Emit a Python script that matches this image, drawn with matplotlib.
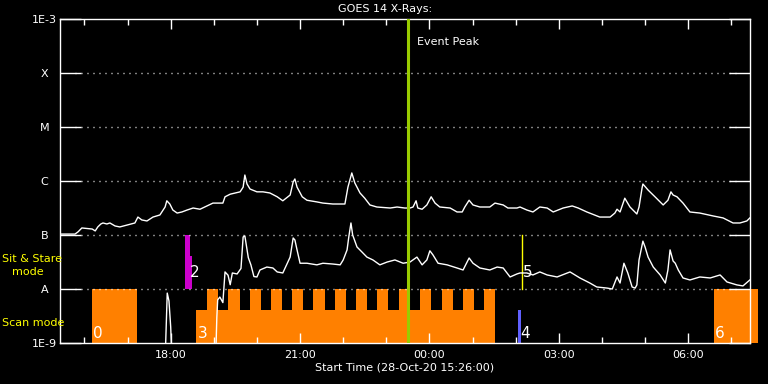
import numpy as np
import matplotlib
matplotlib.use("Agg")
import matplotlib.pyplot as plt

# GOES 14 X-ray flux, time in hours since 28-Oct-20 00:00
t_start = 15.0 + 26.0 / 60
t_end = t_start + 16.0

long_t = [15.43, 15.78, 15.85, 15.94, 16.18, 16.25, 16.31, 16.38, 16.43, 16.52, 16.59, 16.71, 16.82, 16.99,
          17.17, 17.24, 17.33, 17.45, 17.59, 17.75, 17.87, 17.91, 17.98, 18.05, 18.15, 18.26, 18.38, 18.52,
          18.68, 18.84, 18.98, 19.21, 19.26, 19.38, 19.61, 19.68, 19.72, 19.77, 19.84, 20.00, 20.14, 20.30,
          20.47, 20.60, 20.77, 20.84, 20.88, 20.93, 21.05, 21.16, 21.39, 21.53, 21.76, 22.04, 22.11, 22.20,
          22.27, 22.39, 22.50, 22.62, 22.78, 23.09, 23.25, 23.43, 23.55, 23.62, 23.69, 23.73, 23.83, 23.94,
          24.04, 24.13, 24.24, 24.48, 24.64, 24.76, 24.82, 24.92, 25.01, 25.17, 25.40, 25.52, 25.71, 25.82,
          26.03, 26.10, 26.26, 26.40, 26.56, 26.73, 26.87, 27.10, 27.31, 27.45, 27.65, 27.95, 28.19, 28.30,
          28.35, 28.42, 28.53, 28.65, 28.81, 28.86, 28.93, 28.95, 29.07, 29.23, 29.42, 29.53, 29.60, 29.65,
          29.74, 29.88, 30.04, 30.27, 30.58, 30.81, 31.04, 31.20, 31.36, 31.43]
long_flux = [1.04e-7, 1.04e-7, 1.14e-7, 1.35e-7, 1.29e-7, 1.19e-7, 1.41e-7, 1.6e-7, 1.67e-7, 1.6e-7, 1.67e-7,
             1.47e-7, 1.41e-7, 1.53e-7, 1.67e-7, 2.15e-7, 1.9e-7, 1.82e-7, 2.15e-7, 2.35e-7, 3.3e-7, 4.3e-7,
             3.75e-7, 2.9e-7, 2.55e-7, 2.67e-7, 2.9e-7, 3.16e-7, 3.0e-7, 3.45e-7, 3.9e-7, 3.9e-7, 5.1e-7,
             5.7e-7, 6.3e-7, 7.7e-7, 1.29e-6, 8.8e-7, 7.1e-7, 6.3e-7, 6.3e-7, 6.0e-7, 5.1e-7, 4.3e-7, 5.5e-7,
             9.6e-7, 1.09e-6, 7.7e-7, 5.1e-7, 4.4e-7, 4.1e-7, 3.9e-7, 3.75e-7, 3.75e-7, 7.7e-7, 1.41e-6,
             9.2e-7, 6.0e-7, 4.8e-7, 3.6e-7, 3.3e-7, 3.16e-7, 3.3e-7, 3.16e-7, 3.16e-7, 3.3e-7, 4.3e-7,
             3.16e-7, 3.0e-7, 3.6e-7, 5.1e-7, 3.9e-7, 3.3e-7, 3.16e-7, 2.67e-7, 2.67e-7, 3.3e-7, 4.4e-7,
             3.6e-7, 3.3e-7, 3.3e-7, 3.9e-7, 3.6e-7, 3.16e-7, 3.16e-7, 3.3e-7, 2.9e-7, 2.67e-7, 3.3e-7,
             3.16e-7, 2.67e-7, 3.16e-7, 3.45e-7, 3.16e-7, 2.67e-7, 2.15e-7, 2.15e-7, 2.55e-7, 3.0e-7, 2.67e-7,
             4.8e-7, 3.3e-7, 2.45e-7, 3.3e-7, 7.4e-7, 8.8e-7, 6.8e-7, 5.1e-7, 3.6e-7, 4.4e-7, 6.3e-7, 5.5e-7,
             5.1e-7, 3.9e-7, 2.67e-7, 2.55e-7, 2.25e-7, 2.07e-7, 1.67e-7, 1.67e-7, 1.82e-7, 2.07e-7]

short_t = [17.88, 17.92, 17.96, 18.00, 18.02, np.nan,
           19.05, 19.07, 19.09, 19.14, 19.21, 19.26, 19.33, 19.38, 19.43, 19.54, 19.63, 19.68, 19.72, 19.80,
           19.86, 19.93, 20.00, 20.07, 20.23, 20.37, 20.47, 20.60, 20.77, 20.84, 20.88, 20.93, 21.00, 21.16,
           21.39, 21.53, 21.76, 21.93, 22.00, 22.09, 22.13, 22.18, 22.22, 22.32, 22.44, 22.55, 22.69, 22.85,
           23.02, 23.20, 23.39, 23.55, 23.71, 23.83, 23.94, 24.01, 24.08, 24.20, 24.41, 24.64, 24.78, 24.92,
           25.01, 25.17, 25.40, 25.57, 25.71, 25.87, 26.03, 26.10, 26.26, 26.40, 26.56, 26.73, 26.96, 27.26,
           27.49, 27.72, 27.88, 28.12, 28.24, 28.35, 28.42, 28.51, 28.60, 28.70, 28.77, 28.81, 28.86, 28.95,
           29.00, 29.07, 29.19, 29.35, 29.47, 29.53, 29.58, 29.65, 29.70, 29.77, 29.88, 30.04, 30.27, 30.51,
           30.74, 30.90, 31.13, 31.27, 31.43]
short_flux = [8e-10, 8.4e-9, 6e-9, 2e-9, 8e-10, np.nan,
              8e-10, 3.0e-9, 6.3e-9, 7.1e-9, 5.6e-9, 2.07e-8, 1.8e-8, 1.2e-8, 1.98e-8, 1.9e-8, 2.4e-8, 9.2e-8,
              9.6e-8, 3.8e-8, 2.8e-8, 1.7e-8, 1.67e-8, 2.25e-8, 2.55e-8, 2.45e-8, 2.07e-8, 1.98e-8, 3.9e-8,
              8.8e-8, 8.1e-8, 5.3e-8, 3.0e-8, 3.0e-8, 2.8e-8, 3.0e-8, 2.9e-8, 2.8e-8, 3.45e-8, 5.3e-8, 9.2e-8,
              1.67e-7, 1.0e-7, 6.0e-8, 4.8e-8, 3.9e-8, 3.45e-8, 2.8e-8, 3.16e-8, 3.45e-8, 3.0e-8, 3.16e-8,
              3.9e-8, 2.8e-8, 3.45e-8, 5.1e-8, 4.3e-8, 3.0e-8, 2.8e-8, 2.45e-8, 2.25e-8, 3.75e-8, 3.0e-8,
              2.45e-8, 2.25e-8, 2.55e-8, 2.45e-8, 1.67e-8, 1.9e-8, 1.98e-8, 1.98e-8, 1.82e-8, 2.07e-8, 1.82e-8,
              1.67e-8, 2.07e-8, 1.6e-8, 1.29e-8, 1.09e-8, 1.04e-8, 1.0e-8, 1.67e-8, 1.29e-8, 3.0e-8, 1.98e-8,
              1.09e-8, 1.04e-8, 1.19e-8, 3.45e-8, 7.7e-8, 6.0e-8, 3.9e-8, 2.55e-8, 1.82e-8, 1.29e-8, 2.25e-8,
              5.3e-8, 3.3e-8, 3.0e-8, 2.25e-8, 1.6e-8, 1.47e-8, 1.67e-8, 1.6e-8, 1.82e-8, 1.35e-8, 1.19e-8,
              1.14e-8, 1.47e-8]

# observing modes (scan mode bars, full = 1e-8, low = 4.1e-9)
scan_start = [16.18, 18.59, 18.84, 19.10, 19.33, 19.61, 19.84, 20.09, 20.33, 20.58, 20.81, 21.07, 21.30,
              21.58, 21.81, 22.07, 22.30, 22.55, 22.78, 23.04, 23.29, 23.53, 23.78, 24.04, 24.29, 24.55,
              24.78, 25.03, 25.26, 30.60]
scan_end = scan_start[1:] + [31.62]
scan_end[0] = 17.22
scan_end[-2] = 25.52
scan_level = [1e-8, 4.1e-9] + [1e-8, 4.1e-9] * 13 + [1e-8, 1e-8]

stare_start = [18.33, 18.45]
stare_end = [18.45, 18.50]
stare_level = [1e-7, 4.1e-8]

blue_t = [26.05, 26.12]
blue_level = 4.1e-9
yellow_t = 26.15
peak_t = 23.50

mode_labels = ['0', '2', '3', '4', '5', '6']
mode_label_t = [16.21, 18.45, 18.62, 26.10, 26.17, 30.62]
mode_label_y = [1.24e-9, 1.67e-8, 1.24e-9, 1.24e-9, 1.7e-8, 1.24e-9]

ytick_vals = [1e-3, 1e-4, 1e-5, 1e-6, 1e-7, 1e-8, 1e-9]
ytick_labels = ['1E-3', 'X', 'M', 'C', 'B', 'A', '1E-9']
xtick_vals = [18, 21, 24, 27, 30]
xtick_labels = ['18:00', '21:00', '00:00', '03:00', '06:00']

fig = plt.figure(figsize=(7.68, 3.84), dpi=100, facecolor='black')
ax = fig.add_axes([60 / 768, 41 / 384, 690 / 768, 324 / 384])
ax.set_facecolor('black')
ax.set_yscale('log')
ax.set_xlim(t_start, t_end)
ax.set_ylim(1e-9, 1e-3)

orange = '#ff8000'
for s, e, lev in zip(scan_start, scan_end, scan_level):
    ax.bar(s, lev - 1e-9, width=e - s, bottom=1e-9, align='edge', color=orange,
           linewidth=0, antialiased=False, zorder=1, clip_on=(e < t_end))
for s, e, lev in zip(stare_start, stare_end, stare_level):
    ax.bar(s, lev - 1e-8, width=e - s, bottom=1e-8, align='edge', color='#cc00cc',
           linewidth=0, antialiased=False, zorder=1)
ax.bar(blue_t[0], blue_level - 1e-9, width=blue_t[1] - blue_t[0], bottom=1e-9, align='edge',
       color='#6060ff', linewidth=0, zorder=1)
ax.plot([yellow_t, yellow_t], [1e-8, 1e-7], color='yellow', lw=1, zorder=2)

# dotted grid at the flare classes
for v in ytick_vals[1:-1]:
    ax.axhline(v, xmin=15 / 690, xmax=1 - 14 / 690, color='white', lw=1.0,
               linestyle=(0, (0.72, 3.6)), zorder=2)

ax.plot(long_t, long_flux, color='white', lw=1, zorder=3)
ax.plot(short_t, short_flux, color='white', lw=1, zorder=3)

ax.axvline(peak_t, color='#99cc00', lw=2.2, zorder=4)
ax.text(peak_t + 0.22, 3.7e-4, 'Event Peak', color='white', fontsize=8, va='center')

for lab, tx, ty in zip(mode_labels, mode_label_t, mode_label_y):
    ax.text(tx, ty, lab, color='white', fontsize=11, va='baseline', ha='left', zorder=5)

# axes look
for sp in ax.spines.values():
    sp.set_color('white')
    sp.set_linewidth(1)
ax.set_yticks(ytick_vals)
ax.set_yticklabels(ytick_labels)
ax.yaxis.set_minor_locator(matplotlib.ticker.NullLocator())
ax.tick_params(axis='y', which='major', direction='in', length=15, width=1, color='white',
               labelcolor='white', labelsize=8, right=True, pad=0)
for lab in ax.get_yticklabels():
    lab.set_horizontalalignment('center')
    lab.set_x(-15.5 / 690)
ax.set_xticks(xtick_vals)
ax.set_xticklabels(xtick_labels)
ax.set_xticks(list(range(16, 32)), minor=True)
ax.tick_params(axis='x', which='major', direction='in', length=7, width=1, color='white',
               labelcolor='white', labelsize=8, top=True, pad=5)
ax.tick_params(axis='x', which='minor', direction='in', length=4, width=1, color='white', top=True)

fig.text(385 / 768, 1 - 9 / 384, 'GOES 14 X-Rays:', color='white', fontsize=8, ha='center', va='center')
fig.text(405 / 768, 1 - 368 / 384, 'Start Time (28-Oct-20 15:26:00)', color='white', fontsize=8,
         ha='center', va='center')
fig.text(2 / 768, 1 - 259 / 384, 'Sit & Stare', color='yellow', fontsize=8, ha='left', va='center')
fig.text(12 / 768, 1 - 272 / 384, 'mode', color='yellow', fontsize=8, ha='left', va='center')
fig.text(2 / 768, 1 - 323 / 384, 'Scan mode', color='yellow', fontsize=8, ha='left', va='center')

fig.savefig('out.png', dpi=100, facecolor='black')
